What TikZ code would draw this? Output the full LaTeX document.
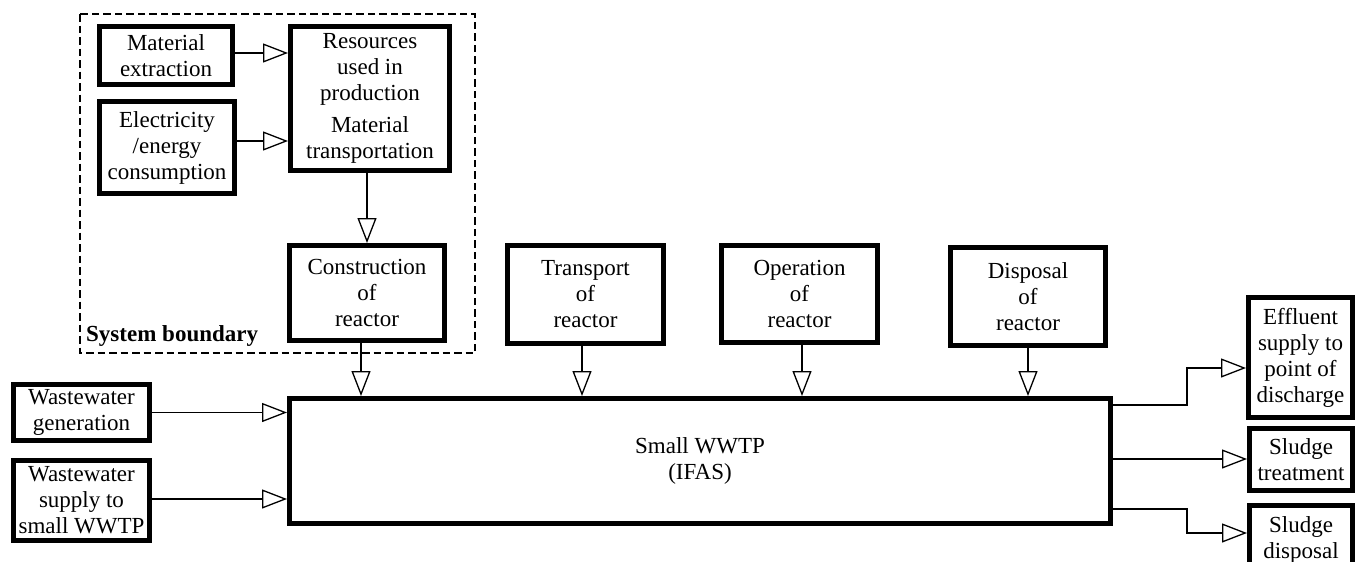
\documentclass[tikz,border=0pt]{standalone}
\usepackage{fontspec}
\setmainfont{Liberation Serif}
\usetikzlibrary{arrows.meta}
\begin{document}
\begin{tikzpicture}[x=1pt,y=-1pt,
  box/.style={draw, line width=5pt, align=center, inner sep=0pt,
    font=\fontsize{23}{26}\selectfont},
  arr/.style={line width=1.3pt, -{Triangle[open,length=25pt,width=19pt,line width=1.3pt]}},
  boundary/.style={line width=2.8pt, dash pattern=on 7.5pt off 4pt}]
\useasboundingbox (0,0) rectangle (1355,562);
\clip (0,0) rectangle (1355,562);
% system boundary
\draw[boundary] (80,14) rectangle (475,353);
\node[anchor=base west, inner sep=0pt, font=\fontsize{23}{26}\selectfont\bfseries] (sb) at (86,341) {System boundary};
% boxes
\node[box, minimum width=133pt, minimum height=58pt] (matext) at (166,55.5) {Material\\extraction};
\node[box, minimum width=135pt, minimum height=92pt] (elec) at (167,147.5) {Electricity\\/energy\\consumption};
\node[box, minimum width=159pt, minimum height=144pt] (res) at (370,98.5) {Resources\\used in\\production\\[6pt]Material\\transportation};
\node[box, minimum width=155pt, minimum height=95pt] (constr) at (367,293) {Construction\\of\\reactor};
\node[box, minimum width=156pt, minimum height=98pt] (transp) at (585.5,294.5) {Transport\\of\\reactor};
\node[box, minimum width=156pt, minimum height=97pt] (oper) at (799.5,294) {Operation\\of\\reactor};
\node[box, minimum width=155pt, minimum height=98pt] (disp) at (1028,296.5) {Disposal\\of\\reactor};
\node[box, minimum width=821pt, minimum height=125pt] (main) at (700,461) {Small WWTP\\(IFAS)};
\node[box, minimum width=136pt, minimum height=56pt] (wwgen) at (81.5,412.5) {Wastewater\\generation};
\node[box, minimum width=136pt, minimum height=80pt] (wwsup) at (81.5,500.5) {Wastewater\\supply to\\small WWTP};
\node[box, minimum width=104pt, minimum height=120pt] (eff) at (1300.5,357.5) {Effluent\\supply to\\point of\\discharge};
\node[box, minimum width=103pt, minimum height=62pt] (sltr) at (1301,459.5) {Sludge\\treatment};
\node[box, minimum width=103pt, inner ysep=12pt, text depth=40pt, anchor=north] (sldisp) at (1301,502.5) {Sludge\\disposal};
% connectors
\draw[arr] ([yshift=2.5pt]matext.east) -- ([yshift=2.5pt]matext.east -| res.west);
\draw[arr] ([yshift=6.5pt]elec.east) -- ([yshift=6.5pt]elec.east -| res.west);
\draw[arr] (constr.north |- res.south) -- (constr.north);
\draw[arr] ([xshift=-6pt]constr.south) -- ([xshift=-6pt]constr.south |- main.north);
\draw[arr] ([xshift=-3.5pt]transp.south) -- ([xshift=-3.5pt]transp.south |- main.north);
\draw[arr] ([xshift=2.5pt]oper.south) -- ([xshift=2.5pt]oper.south |- main.north);
\draw[arr] (disp.south) -- (disp.south |- main.north);
\draw[arr] (wwgen.east) -- (wwgen.east -| main.west);
\draw[arr] ([yshift=1.5pt]wwsup.east) -- ([yshift=1.5pt]wwsup.east -| main.west);
\draw[arr] ([yshift=56pt]main.east) -- ++(74,0) |- ([yshift=-10.5pt]eff.west);
\draw[arr] ([yshift=2pt]main.east) -- ([yshift=2pt]main.east -| sltr.west);
\draw[arr] ([yshift=-48pt]main.east) -- ++(74,0) |- (sldisp.west |- 0,533);
\end{tikzpicture}
\end{document}
